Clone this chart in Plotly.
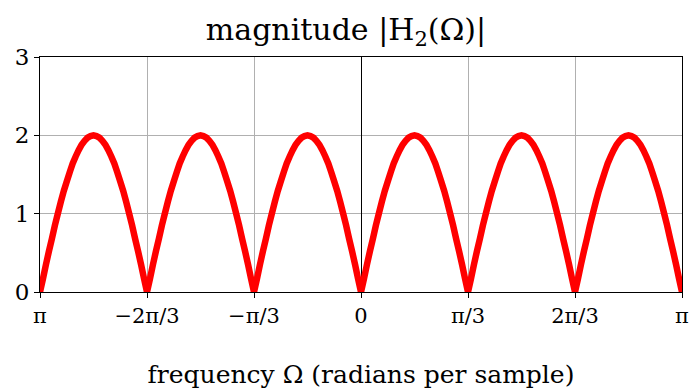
import numpy as np
import plotly.graph_objects as go

magnitude = [
    0.00, 0.17, 0.35, 0.52, 0.68, 0.85, 1.00, 1.15, 1.29, 1.41, 1.53, 1.64, 1.73, 1.81, 1.88, 1.93, 1.97, 1.99,
    2.00, 1.99, 1.97, 1.93, 1.88, 1.81, 1.73, 1.64, 1.53, 1.41, 1.29, 1.15, 1.00, 0.85, 0.68, 0.52, 0.35, 0.17,
    0.00, 0.17, 0.35, 0.52, 0.68, 0.85, 1.00, 1.15, 1.29, 1.41, 1.53, 1.64, 1.73, 1.81, 1.88, 1.93, 1.97, 1.99,
    2.00, 1.99, 1.97, 1.93, 1.88, 1.81, 1.73, 1.64, 1.53, 1.41, 1.29, 1.15, 1.00, 0.85, 0.68, 0.52, 0.35, 0.17,
    0.00, 0.17, 0.35, 0.52, 0.68, 0.85, 1.00, 1.15, 1.29, 1.41, 1.53, 1.64, 1.73, 1.81, 1.88, 1.93, 1.97, 1.99,
    2.00, 1.99, 1.97, 1.93, 1.88, 1.81, 1.73, 1.64, 1.53, 1.41, 1.29, 1.15, 1.00, 0.85, 0.68, 0.52, 0.35, 0.17,
    0.00, 0.17, 0.35, 0.52, 0.68, 0.85, 1.00, 1.15, 1.29, 1.41, 1.53, 1.64, 1.73, 1.81, 1.88, 1.93, 1.97, 1.99,
    2.00, 1.99, 1.97, 1.93, 1.88, 1.81, 1.73, 1.64, 1.53, 1.41, 1.29, 1.15, 1.00, 0.85, 0.68, 0.52, 0.35, 0.17,
    0.00, 0.17, 0.35, 0.52, 0.68, 0.85, 1.00, 1.15, 1.29, 1.41, 1.53, 1.64, 1.73, 1.81, 1.88, 1.93, 1.97, 1.99,
    2.00, 1.99, 1.97, 1.93, 1.88, 1.81, 1.73, 1.64, 1.53, 1.41, 1.29, 1.15, 1.00, 0.85, 0.68, 0.52, 0.35, 0.17,
    0.00, 0.17, 0.35, 0.52, 0.68, 0.85, 1.00, 1.15, 1.29, 1.41, 1.53, 1.64, 1.73, 1.81, 1.88, 1.93, 1.97, 1.99,
    2.00, 1.99, 1.97, 1.93, 1.88, 1.81, 1.73, 1.64, 1.53, 1.41, 1.29, 1.15, 1.00, 0.85, 0.68, 0.52, 0.35, 0.17,
    0.00,
]
omega = np.linspace(-np.pi, np.pi, len(magnitude))

x_tick_vals = [-np.pi, -2 * np.pi / 3, -np.pi / 3, 0, np.pi / 3, 2 * np.pi / 3, np.pi]
x_tick_text = ["π", "−2π/3", "−π/3", "0", "π/3", "2π/3", "π"]
y_tick_vals = [0, 1, 2, 3]

FONT = "DejaVu Serif"

fig = go.Figure()
fig.add_trace(go.Scatter(x=omega, y=magnitude, mode="lines",
                         line=dict(color="#ff0000", width=6.5, simplify=False),
                         showlegend=False))

fig.update_layout(
    width=692, height=390,
    margin=dict(l=40, r=10, t=57, b=98),
    paper_bgcolor="white", plot_bgcolor="white",
    font=dict(family=FONT, size=22, color="black"),
    title=dict(text="magnitude |H<sub>2</sub>(Ω)|", x=0.5, xanchor="center",
               y=1 - 29 / 390, yanchor="middle", font=dict(family=FONT, size=30)),
)
fig.update_xaxes(
    range=[-np.pi, np.pi], tickvals=x_tick_vals, ticktext=x_tick_text,
    showgrid=True, gridcolor="#b0b0b0", gridwidth=1,
    zeroline=True, zerolinecolor="black", zerolinewidth=1.2,
    showline=True, linecolor="black", linewidth=1.2, mirror=True,
    ticks="outside", ticklen=5, tickcolor="black",
    tickfont=dict(size=21), automargin=False,
    title=dict(text="frequency Ω (radians per sample)", font=dict(size=25), standoff=38),
)
fig.update_yaxes(
    range=[0, 3], tickvals=y_tick_vals,
    showgrid=True, gridcolor="#b0b0b0", gridwidth=1,
    zeroline=False, automargin=False,
    showline=True, linecolor="black", linewidth=1.2, mirror=True,
    ticks="outside", ticklen=5, tickcolor="black",
    tickfont=dict(size=23),
)

fig.write_html("out.html")
